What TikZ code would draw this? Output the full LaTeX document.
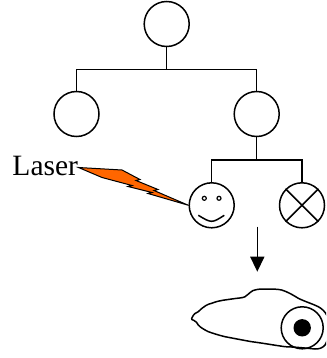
\documentclass[tikz,border=0pt]{standalone}
\usepackage{fontspec}
\setmainfont{Liberation Serif}
\usetikzlibrary{arrows.meta}
\begin{document}
\begin{tikzpicture}[x=1pt,y=-1pt,
  cell/.style={circle,draw,line width=1.5pt,inner sep=0pt,minimum size=45pt},
  wire/.style={line width=1.5pt},
  thin/.style={line width=1.2pt}]
\useasboundingbox (0,0) rectangle (326,358);

% tree of circles
\node[cell] (root)  at (166.7,24) {};
\node[cell] (left)  at (76.5,114) {};
\node[cell] (right) at (256.7,114) {};
\node[cell] (smile) at (211.7,205.3) {};
\node[cell] (cross) at (302,205.3) {};

\coordinate (busA) at (166.7,69.3);
\coordinate (busB) at (256.7,160);

\draw[wire] (root.south) -- (busA);
\draw[wire] (left.north) |- (busA) -| (right.north);
\draw[wire] (right.south) -- (busB);
\draw[wire] (smile.north) |- (busB) -| (cross.north);

% face
\draw[thin] ([shift={(-7.4,-7)}]smile.center) circle (2);
\draw[thin] ([shift={(7.3,-7)}]smile.center) circle (2);
\draw[line width=1.5pt] ([shift={(-13.4,10)}]smile.center)
  .. controls ([shift={(0,18)}]smile.center) .. ([shift={(12.6,10)}]smile.center);

% cross mark
\draw[wire] (cross.45) -- (cross.225);
\draw[wire] (cross.135) -- (cross.315);

% laser label and bolt
\node[font=\fontsize{29.5}{31}\selectfont,anchor=base west,inner sep=0pt] (laser) at (12.3,175.7) {Laser};
\coordinate (boltA) at (78.5,167.5);
\draw[fill={rgb,255:red,255;green,102;blue,0},line width=1pt,line join=miter]
  (boltA) -- (122,170) -- (140,179.5) -- (136,180.5) -- (158,189.5) -- (154,190.5)
  -- (smile.west) -- (148,193.5) -- (152,192.5) -- (128,186.5) -- (132,185.5)
  -- (102,177.5) -- cycle;

% arrow down to the cell
\coordinate (arrTop) at (257.3,226.7);
\coordinate (arrTip) at (257.3,271.7);
\draw[wire,-{Triangle[length=15pt,width=14pt]}] (arrTop) -- (arrTip);

% elongated cell with nucleus
\begin{scope}
\clip (0,0) rectangle (326,358);
\draw[line width=1.5pt,line join=round]
  (191.7,318.3) .. controls (194,313) and (196,313) .. (198.3,311.7)
  .. controls (204,306) and (208,304) .. (211.7,303.3)
  .. controls (220,300) and (226,300) .. (231.7,299)
  .. controls (238,298) and (243,298) .. (245,296.7)
  .. controls (249,294) and (252,290) .. (255,290)
  .. controls (258,289) and (262,289) .. (265,289)
  .. controls (272,289) and (277,289) .. (281.7,290)
  .. controls (288,292) and (293,295) .. (298.3,298.3)
  .. controls (306,302) and (313,304) .. (318.3,306.7)
  .. controls (326,311) and (330,318) .. (329,330)
  .. controls (328,340) and (326,345) .. (323.3,346.7)
  .. controls (320,349) and (317,349) .. (315,349)
  .. controls (305,348) and (295,347) .. (285,346.7)
  .. controls (273,345) and (262,343) .. (251.7,341.7)
  .. controls (242,340) and (232,338) .. (225,336.7)
  .. controls (218,335) and (212,333) .. (208.3,331.7)
  .. controls (203,329) and (200,327) .. (198.3,325)
  .. controls (197,323) and (196,321) .. (194,320.5)
  .. controls (192,320) and (191,319) .. (191.7,318.3) -- cycle;
\end{scope}
\node[circle,draw,line width=1.5pt,inner sep=0pt,minimum size=42pt] (nucleus) at (302.2,327.8) {};
\fill (nucleus.center) circle (8.7);
\end{tikzpicture}
\end{document}
